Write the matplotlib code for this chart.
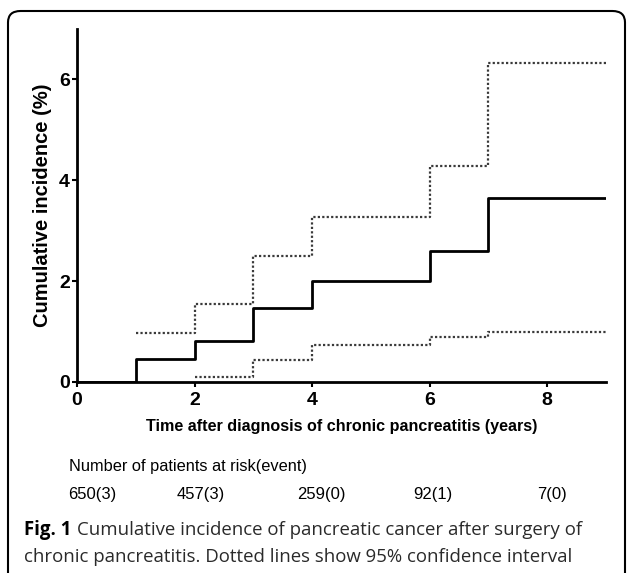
import matplotlib.pyplot as plt
from matplotlib.patches import FancyBboxPatch

# step values (cumulative incidence %) at each time point
years = [0, 1, 2, 3, 4, 6, 7, 9]
incidence = [0, 0.45, 0.81, 1.46, 2.0, 2.6, 3.65, 3.65]
upper_years = [1, 2, 3, 4, 6, 7, 9]
upper_ci = [0.98, 1.54, 2.5, 3.28, 4.28, 6.32, 6.32]
lower_years = [2, 3, 4, 6, 7, 9]
lower_ci = [0.09, 0.44, 0.74, 0.89, 1.0, 1.0]

risk_times = [0, 2, 4, 6, 8]
risk_labels = ['650(3)', '457(3)', '259(0)', '92(1)', '7(0)']

plt.rcParams['font.family'] = ['Liberation Sans', 'DejaVu Sans']

W, H = 627, 573
fig = plt.figure(figsize=(W / 100, H / 100), dpi=100)
ax = fig.add_axes([77 / W, 1 - 382 / H, (606 - 77) / W, (382 - 29) / H])

ax.step(years, incidence, where='post', color='black', lw=2)
ax.step(upper_years, upper_ci, where='post', color='#3a3a3a', lw=1.6, linestyle=(0, (1, 1)))
ax.step(lower_years, lower_ci, where='post', color='#3a3a3a', lw=1.6, linestyle=(0, (1, 1)))

ax.set_xlim(0, 9)
ax.set_ylim(0, 7)
ax.set_xticks([0, 2, 4, 6, 8])
ax.set_yticks([0, 2, 4, 6])
for s in ['top', 'right']:
    ax.spines[s].set_visible(False)
for s in ['left', 'bottom']:
    ax.spines[s].set_linewidth(2)
ax.tick_params(axis='both', width=1.5, length=3.5, labelsize=14)
ax.tick_params(axis='x', pad=4)
ax.tick_params(axis='y', pad=1.5)
for lab in ax.get_xticklabels() + ax.get_yticklabels():
    lab.set_fontweight('bold')

ax.set_xlabel('Time after diagnosis of chronic pancreatitis (years)',
              fontsize=11.6, fontweight='bold', labelpad=7)
ax.set_ylabel('Cumulative incidence (%)', fontsize=14.5, fontweight='bold', labelpad=5)

# numbers at risk
fig.text(69 / W, 1 - 466 / H, 'Number of patients at risk(event)',
         fontsize=11.8, va='center', ha='left')
nudge = [0.26, 0.1, 0.15, 0.05, 0.08]
for t, lab, dx in zip(risk_times, risk_labels, nudge):
    x_fig = fig.transFigure.inverted().transform(ax.transData.transform((t + dx, 0)))[0]
    fig.text(x_fig, 1 - 495 / H, lab, fontsize=12, va='center', ha='center')

# caption
fig_lab = fig.text(24 / W, 1 - 530 / H, 'Fig. 1', fontsize=13.4, fontweight='bold',
                   family='Open Sans', va='center', ha='left')
ax.annotate('Cumulative incidence of pancreatic cancer after surgery of',
            xy=(1, 0.5), xycoords=fig_lab, xytext=(4, 0), textcoords='offset points',
            fontsize=13.4, family='Open Sans', va='center', ha='left',
            color='#2a2a2a', annotation_clip=False)
fig.text(24 / W, 1 - 557 / H,
         'chronic pancreatitis. Dotted lines show 95% confidence interval',
         fontsize=13.4, family='Open Sans', va='center', ha='left', color='#2a2a2a')

# panel border
box = FancyBboxPatch((8 / W, -0.1), (625 - 8) / W, 1 - 11 / H + 0.1,
                     boxstyle='round,pad=0,rounding_size=0.02',
                     transform=fig.transFigure, fill=False, lw=1.5,
                     edgecolor='black', clip_on=False)
fig.patches.append(box)

fig.savefig('out.png', dpi=100)
